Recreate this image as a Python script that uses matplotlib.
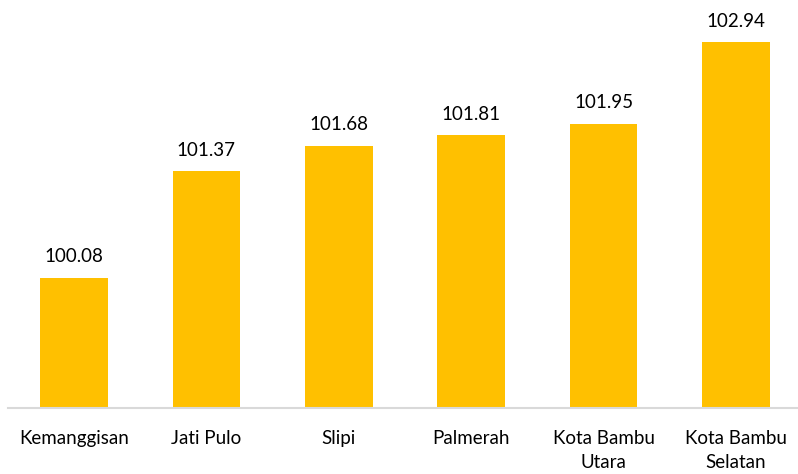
import matplotlib
matplotlib.use('Agg')
import matplotlib.pyplot as plt

categories = ['Kemanggisan', 'Jati Pulo', 'Slipi', 'Palmerah',
              'Kota Bambu\nUtara', 'Kota Bambu\nSelatan']
values = [100.08, 101.37, 101.68, 101.81, 101.95, 102.94]

plt.rcParams['font.family'] = ['Lato', 'DejaVu Sans']

fig = plt.figure(figsize=(7.98, 4.74), dpi=100)
ax = fig.add_axes([0.0098, 0.139, 0.9955, 0.861])

x = range(len(categories))
bars = ax.bar(x, values, width=0.51, color='#FFC000')

for b, v in zip(bars, values):
    ax.annotate(f'{v:.2f}', (b.get_x() + b.get_width() / 2, v),
                xytext=(0, 9), textcoords='offset points',
                ha='center', va='bottom', fontsize=13.5, color='#000000')

ax.set_xlim(-0.5, 5.5)
ax.set_ylim(98.5, 103.45)
ax.set_xticks(list(x))
ax.set_xticklabels(categories, fontsize=13.5, color='#000000', linespacing=1.45)
ax.tick_params(axis='x', length=0, pad=16)
ax.set_yticks([])
for side in ['top', 'right', 'left']:
    ax.spines[side].set_visible(False)
ax.spines['bottom'].set_color('#D9D9D9')
ax.spines['bottom'].set_linewidth(1.5)

fig.savefig('out.png', dpi=100)
